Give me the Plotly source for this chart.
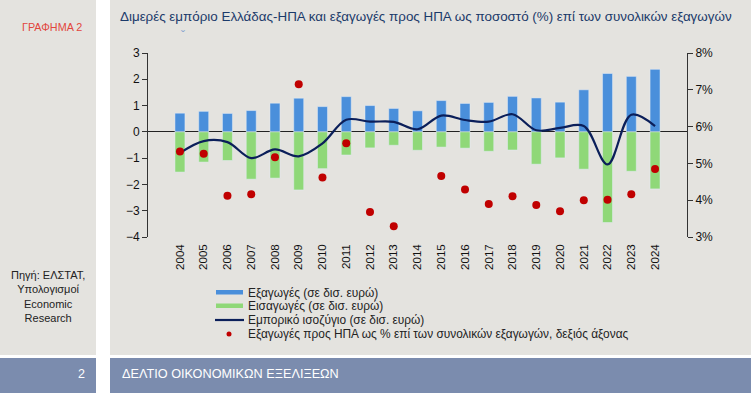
import plotly.graph_objects as go

# ---------------- data ----------------
years = ["2004", "2005", "2006", "2007", "2008", "2009", "2010", "2011", "2012", "2013", "2014",
         "2015", "2016", "2017", "2018", "2019", "2020", "2021", "2022", "2023", "2024"]
exports = [0.71, 0.78, 0.70, 0.81, 1.09, 1.28, 0.96, 1.34, 1.00, 0.89, 0.80,
           1.19, 1.08, 1.12, 1.35, 1.29, 1.13, 1.60, 2.22, 2.11, 2.38]
imports = [-1.53, -1.15, -1.09, -1.80, -1.76, -2.21, -1.40, -0.88, -0.61, -0.51, -0.70,
           -0.58, -0.62, -0.74, -0.69, -1.23, -0.99, -1.42, -3.45, -1.50, -2.17]
balance = [-0.80, -0.35, -0.39, -1.00, -0.67, -0.93, -0.44, 0.46, 0.39, 0.38, 0.10,
           0.62, 0.45, 0.39, 0.67, 0.06, 0.15, 0.22, -1.24, 0.65, 0.22]
share_pct = [5.32, 5.26, 4.12, 4.16, 5.17, 7.15, 4.62, 5.55, 3.68, 3.29, None,
             4.66, 4.29, 3.90, 4.11, 3.87, 3.70, 4.00, 4.01, 4.16, 4.85]

left_ticks = [-4, -3, -2, -1, 0, 1, 2, 3]
right_ticks = [3, 4, 5, 6, 7, 8]
right_tick_text = ["3%", "4%", "5%", "6%", "7%", "8%"]

title_text = "Διμερές εμπόριο Ελλάδας-ΗΠΑ και εξαγωγές προς ΗΠΑ ως ποσοστό (%) επί των συνολικών εξαγωγών"
legend_labels = ["Εξαγωγές (σε δισ. ευρώ)", "Εισαγωγές (σε δισ. ευρώ)",
                 "Εμπορικό ισοζύγιο (σε δισ. ευρώ)",
                 "Εξαγωγές προς ΗΠΑ ως % επί των συνολικών εξαγωγών, δεξιός άξονας"]

# ---------------- styling ----------------
W, H = 751, 393
L, R, T, B = 148, 64, 53, 156
PW, PH = W - L - R, H - T - B
FONT = "Liberation Sans, Arial, sans-serif"
C_EXP = "#4a8fdb"
C_IMP = "#8fd878"
C_BAL = "#0b1f5a"
C_DOT = "#c00000"
GREY = "#e4e3df"
BAND = "#7b8cae"


def px(x):
    return (x - L) / PW


def py(y):
    return (H - B - y) / PH


fig = go.Figure()
fig.add_trace(go.Bar(x=years, y=exports, marker_color=C_EXP, name=legend_labels[0], showlegend=False))
fig.add_trace(go.Bar(x=years, y=imports, marker_color=C_IMP, name=legend_labels[1], showlegend=False))
fig.add_trace(go.Scatter(x=years, y=balance, mode="lines", line=dict(color=C_BAL, width=2.2, shape="spline", smoothing=1.0),
                         name=legend_labels[2], showlegend=False))
fig.add_trace(go.Scatter(x=years, y=share_pct, mode="markers", yaxis="y2",
                         marker=dict(color=C_DOT, size=8), name=legend_labels[3], showlegend=False))

shapes = [
    # grey panels
    dict(type="rect", xref="paper", yref="paper", x0=px(0), x1=px(96), y0=py(0), y1=py(355),
         fillcolor=GREY, line_width=0, layer="below"),
    dict(type="rect", xref="paper", yref="paper", x0=px(110), x1=px(751), y0=py(0), y1=py(355),
         fillcolor=GREY, line_width=0, layer="below"),
    # bottom bands
    dict(type="rect", xref="paper", yref="paper", x0=px(0), x1=px(96), y0=py(358), y1=py(393),
         fillcolor=BAND, line_width=0, layer="below"),
    dict(type="rect", xref="paper", yref="paper", x0=px(110), x1=px(751), y0=py(358), y1=py(393),
         fillcolor=BAND, line_width=0, layer="below"),
    # legend swatches
    dict(type="rect", xref="paper", yref="paper", x0=px(216), x1=px(243), y0=py(294.5), y1=py(290),
         fillcolor=C_EXP, line_width=0),
    dict(type="rect", xref="paper", yref="paper", x0=px(216), x1=px(243), y0=py(308), y1=py(303.5),
         fillcolor=C_IMP, line_width=0),
    dict(type="line", xref="paper", yref="paper", x0=px(215), x1=px(244), y0=py(320), y1=py(320),
         line=dict(color=C_BAL, width=2.2)),
    dict(type="circle", xref="paper", yref="paper", x0=px(226.5), x1=px(231.5), y0=py(336.5), y1=py(331.5),
         fillcolor=C_DOT, line_width=0),
]

annotations = [
    dict(text=title_text, x=px(118), y=py(16), xref="paper", yref="paper", xanchor="left", yanchor="middle",
         showarrow=False, font=dict(family=FONT, size=13.4, color="#1b3a6a")),
    dict(text="ˇ", x=px(183), y=py(36), xref="paper", yref="paper", xanchor="center", yanchor="middle",
         showarrow=False, font=dict(family=FONT, size=12, color="#8aa6cf")),
    dict(text="ΓΡΑΦΗΜΑ 2", x=px(52), y=py(27), xref="paper", yref="paper", xanchor="center", yanchor="middle",
         showarrow=False, font=dict(family=FONT, size=10.8, color="#e2463d")),
    dict(text="Πηγή: ΕΛΣΤΑΤ,<br>Υπολογισμοί<br>Economic<br>Research", x=px(48), y=py(296.5),
         xref="paper", yref="paper", xanchor="center", yanchor="middle", align="center",
         showarrow=False, font=dict(family=FONT, size=11, color="#222222")),
    dict(text="2", x=px(87), y=py(374), xref="paper", yref="paper", xanchor="right", yanchor="middle",
         showarrow=False, font=dict(family=FONT, size=12.5, color="white")),
    dict(text="ΔΕΛΤΙΟ ΟΙΚΟΝΟΜΙΚΩΝ ΕΞΕΛΙΞΕΩΝ", x=px(120), y=py(374), xref="paper", yref="paper",
         xanchor="left", yanchor="middle", showarrow=False, font=dict(family=FONT, size=12.7, color="white")),
]
legend_y = [292.5, 306, 320, 334]
for lab, yy in zip(legend_labels, legend_y):
    annotations.append(dict(text=lab, x=px(246), y=py(yy), xref="paper", yref="paper", xanchor="left",
                            yanchor="middle", showarrow=False, font=dict(family=FONT, size=11.9, color="#222222")))

fig.update_layout(
    width=W, height=H,
    margin=dict(l=L, r=R, t=T, b=B, pad=0),
    paper_bgcolor="white", plot_bgcolor="rgba(0,0,0,0)",
    barmode="relative", bargap=0.58,
    showlegend=False,
    font=dict(family=FONT, size=11, color="#111111"),
    xaxis=dict(type="category", showgrid=False, showline=False, ticks="", tickangle=-90,
               tickfont=dict(size=11.5), ticklabelstandoff=4, zeroline=False),
    yaxis=dict(range=[-4, 3], tickvals=left_ticks, showgrid=False, showline=True, linecolor="#333333",
               linewidth=1, ticks="outside", ticklen=5, tickcolor="#333333", zeroline=True,
               zerolinecolor="#222222", zerolinewidth=1.3, tickfont=dict(size=12)),
    yaxis2=dict(range=[3, 8], tickvals=right_ticks, ticktext=right_tick_text, overlaying="y", side="right",
                showgrid=False, showline=True, linecolor="#333333", linewidth=1, ticks="outside",
                ticklen=5, tickcolor="#333333", zeroline=False, tickfont=dict(size=12)),
    shapes=shapes,
    annotations=annotations,
)

fig.write_html("out.html", config={"displayModeBar": False},
               post_script="document.body.style.margin='0';document.body.style.padding='0';")
